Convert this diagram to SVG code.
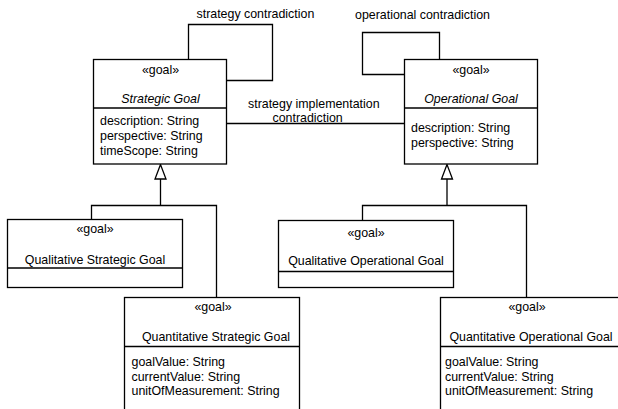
<svg xmlns="http://www.w3.org/2000/svg" width="618" height="409" viewBox="0 0 618 409">
<style>
text{font-family:"Liberation Sans",Arial,sans-serif;font-size:12.4px;fill:#000}
.c{text-anchor:middle}
.i{font-style:italic}
.box{fill:#fff;stroke:#000;stroke-width:1.3}
.ln{fill:none;stroke:#000;stroke-width:1.3}
.tri{fill:#fff;stroke:#000;stroke-width:1.3}
</style>
<rect width="618" height="409" fill="#fff"/>
<g id="connectors">
<polyline class="ln" points="188.5,59.5 188.5,24.5 272.5,24.5 272.5,80.5 226.5,80.5"/>
<polyline class="ln" points="439.5,59.5 439.5,32.5 362.5,32.5 362.5,74.5 404.5,74.5"/>
<line class="ln" x1="226.5" y1="123.5" x2="404.5" y2="123.5"/>
<polyline class="ln" points="91.5,219.5 91.5,205.5 216.5,205.5 216.5,297.5"/>
<line class="ln" x1="160.5" y1="179" x2="160.5" y2="205.5"/>
<polygon class="tri" points="160.5,164.5 155,179 166,179"/>
<polyline class="ln" points="362.5,220.5 362.5,205.5 526.5,205.5 526.5,297.5"/>
<line class="ln" x1="447" y1="179" x2="447" y2="205.5"/>
<polygon class="tri" points="447,164.5 441.5,179 452.5,179"/>
<text x="196.5" y="17.5">strategy contradiction</text>
<text x="355" y="18.5">operational contradiction</text>
<text x="248" y="108">strategy implementation</text>
<text x="272.5" y="121.5">contradiction</text>
</g>
<g id="strategic-goal">
<rect class="box" x="93.5" y="59.5" width="133" height="104.5"/>
<line class="ln" x1="93.5" y1="108" x2="226.5" y2="108"/>
<text class="c" x="160.5" y="74">«goal»</text>
<text class="c i" x="160.5" y="102.5">Strategic Goal</text>
<text x="100" y="124.5">description: String</text>
<text x="100" y="140">perspective: String</text>
<text x="100" y="155">timeScope: String</text>
</g>
<g id="operational-goal">
<rect class="box" x="404.5" y="59.5" width="133" height="104.5"/>
<line class="ln" x1="404.5" y1="108" x2="537.5" y2="108"/>
<text class="c" x="471" y="73.5">«goal»</text>
<text class="c i" x="471" y="102.5">Operational Goal</text>
<text x="411" y="132">description: String</text>
<text x="411" y="147">perspective: String</text>
</g>
<g id="qualitative-strategic-goal">
<rect class="box" x="7.5" y="219.5" width="175" height="68"/>
<line class="ln" x1="7.5" y1="268" x2="182.5" y2="268"/>
<text class="c" x="95" y="232.5">«goal»</text>
<text class="c" x="95" y="263.5">Qualitative Strategic Goal</text>
</g>
<g id="qualitative-operational-goal">
<rect class="box" x="278.5" y="220.5" width="175" height="67"/>
<line class="ln" x1="278.5" y1="271.5" x2="453.5" y2="271.5"/>
<text class="c" x="366" y="236.5">«goal»</text>
<text class="c" x="366" y="264.5">Qualitative Operational Goal</text>
</g>
<g id="quantitative-strategic-goal">
<rect class="box" x="124.5" y="297.5" width="175" height="115"/>
<line class="ln" x1="124.5" y1="346.5" x2="299.5" y2="346.5"/>
<text class="c" x="213" y="310.5">«goal»</text>
<text class="c" x="216" y="341">Quantitative Strategic Goal</text>
<text x="131.5" y="366">goalValue: String</text>
<text x="131.5" y="381">currentValue: String</text>
<text x="131.5" y="395">unitOfMeasurement: String</text>
</g>
<g id="quantitative-operational-goal">
<rect class="box" x="440.5" y="297.5" width="185" height="115"/>
<line class="ln" x1="440.5" y1="346.5" x2="625" y2="346.5"/>
<text class="c" x="527" y="310.5">«goal»</text>
<text class="c" x="531" y="341">Quantitative Operational Goal</text>
<text x="445" y="366">goalValue: String</text>
<text x="445" y="381">currentValue: String</text>
<text x="445" y="395">unitOfMeasurement: String</text>
</g>
</svg>
